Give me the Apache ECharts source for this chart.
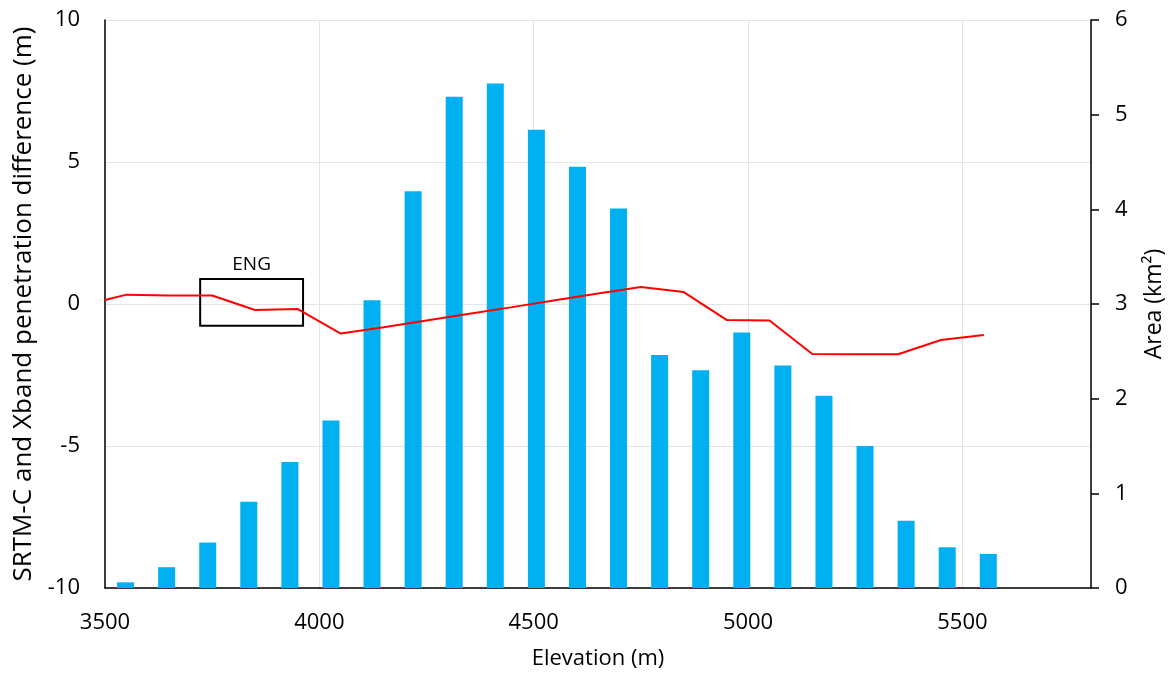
<!DOCTYPE html>
<html>
<head>
<meta charset="utf-8">
<script src="https://cdn.jsdelivr.net/npm/echarts@6/dist/echarts.min.js"></script>
<style>
html,body{margin:0;padding:0;background:#fff;}
#chart{width:1174px;height:680px;}
</style>
</head>
<body>
<div id="chart"></div>
<script>
// Bars: area per elevation bin (km²), 24 category slots, last two empty
const barBins = ['1','2','3','4','5','6','7','8','9','10','11','12','13','14','15','16','17','18','19','20','21','22','23','24'];
const barArea = [0.06, 0.22, 0.48, 0.91, 1.33, 1.77, 3.04, 4.19, 5.19, 5.33, 4.84, 4.45, 4.01, 2.46, 2.30, 2.70, 2.35, 2.03, 1.50, 0.71, 0.43, 0.36, null, null];

// Line: penetration difference (m) vs elevation (m)
const lineElev = [3500, 3550, 3650, 3750, 3850, 3950, 4050, 4150, 4250, 4350, 4450, 4550, 4650, 4750, 4850, 4950, 5050, 5150, 5250, 5350, 5450, 5550];
const lineDiff = [0.14, 0.33, 0.30, 0.30, -0.21, -0.18, -1.04, -0.82, -0.58, -0.34, -0.11, 0.13, 0.37, 0.60, 0.42, -0.56, -0.58, -1.76, -1.77, -1.77, -1.27, -1.09];

// Axis ticks
const elevTicks = {min: 3500, max: 5800, interval: 500};
const diffTicks = {min: -10, max: 10, interval: 5};
const areaTicks = {min: 0, max: 6, interval: 1};

// ENG annotation box (elevation range / difference range)
const engBox = {x0: 3722, x1: 3962, y0: 0.88, y1: -0.77, label: 'ENG'};

const FONT = 'Open Sans';
const chart = echarts.init(document.getElementById('chart'));
chart.setOption({
  backgroundColor: '#fff',
  animation: false,
  textStyle: {fontFamily: FONT, color: '#000'},
  grid: {left: 105, right: 80, top: 20, bottom: 92, containLabel: false},
  xAxis: [
    {
      type: 'category', data: barBins, gridIndex: 0, show: false,
      boundaryGap: true
    },
    {
      type: 'value', gridIndex: 0, position: 'bottom',
      min: elevTicks.min, max: elevTicks.max, interval: elevTicks.interval,
      name: 'Elevation (m)', nameLocation: 'middle', nameGap: 60,
      nameTextStyle: {fontFamily: FONT, fontSize: 22, color: '#000'},
      axisLine: {show: true, lineStyle: {color: '#000', width: 1.5}},
      axisTick: {show: false},
      axisLabel: {fontFamily: FONT, fontSize: 22, color: '#000', margin: 24, showMaxLabel: false,
                  formatter: v => String(v)},
      splitLine: {show: true, lineStyle: {color: '#e4e4e4', width: 1}}
    }
  ],
  yAxis: [
    {
      type: 'value', position: 'left',
      min: diffTicks.min, max: diffTicks.max, interval: diffTicks.interval,
      name: 'SRTM-C and Xband penetration difference (m)', nameLocation: 'middle', nameGap: 63,
      nameRotate: 90,
      nameTextStyle: {fontFamily: FONT, fontSize: 26, color: '#000'},
      axisLine: {show: true, lineStyle: {color: '#000', width: 1.5}},
      axisTick: {show: false},
      axisLabel: {fontFamily: FONT, fontSize: 22, color: '#000', margin: 25},
      splitLine: {show: true, lineStyle: {color: '#e4e4e4', width: 1}}
    },
    {
      type: 'value', position: 'right',
      min: areaTicks.min, max: areaTicks.max, interval: areaTicks.interval,
      name: 'Area (km²)', nameLocation: 'middle', nameGap: 52, nameRotate: 90,
      nameTextStyle: {fontFamily: FONT, fontSize: 23, color: '#000'},
      axisLine: {show: true, lineStyle: {color: '#000', width: 1.5}},
      axisTick: {show: true, inside: false, length: 8, lineStyle: {color: '#000', width: 1.5}},
      axisLabel: {fontFamily: FONT, fontSize: 22, color: '#000', margin: 24},
      splitLine: {show: false}
    }
  ],
  series: [
    {
      type: 'bar', name: 'Area', xAxisIndex: 0, yAxisIndex: 1,
      data: barArea, barWidth: 17,
      itemStyle: {color: '#00b0f0'}
    },
    {
      type: 'line', name: 'Difference', xAxisIndex: 1, yAxisIndex: 0,
      data: lineElev.map((e, i) => [e, lineDiff[i]]),
      showSymbol: false, symbol: 'none',
      lineStyle: {color: '#ff0000', width: 2},
      z: 5,
      markArea: {
        silent: true,
        itemStyle: {color: 'rgba(0,0,0,0)', borderColor: '#000', borderWidth: 2},
        label: {show: true, position: 'top', distance: 4, fontFamily: FONT, fontSize: 19, color: '#000'},
        data: [[
          {name: engBox.label, xAxis: engBox.x0, yAxis: engBox.y0},
          {xAxis: engBox.x1, yAxis: engBox.y1}
        ]]
      }
    }
  ]
});
</script>
</body>
</html>
